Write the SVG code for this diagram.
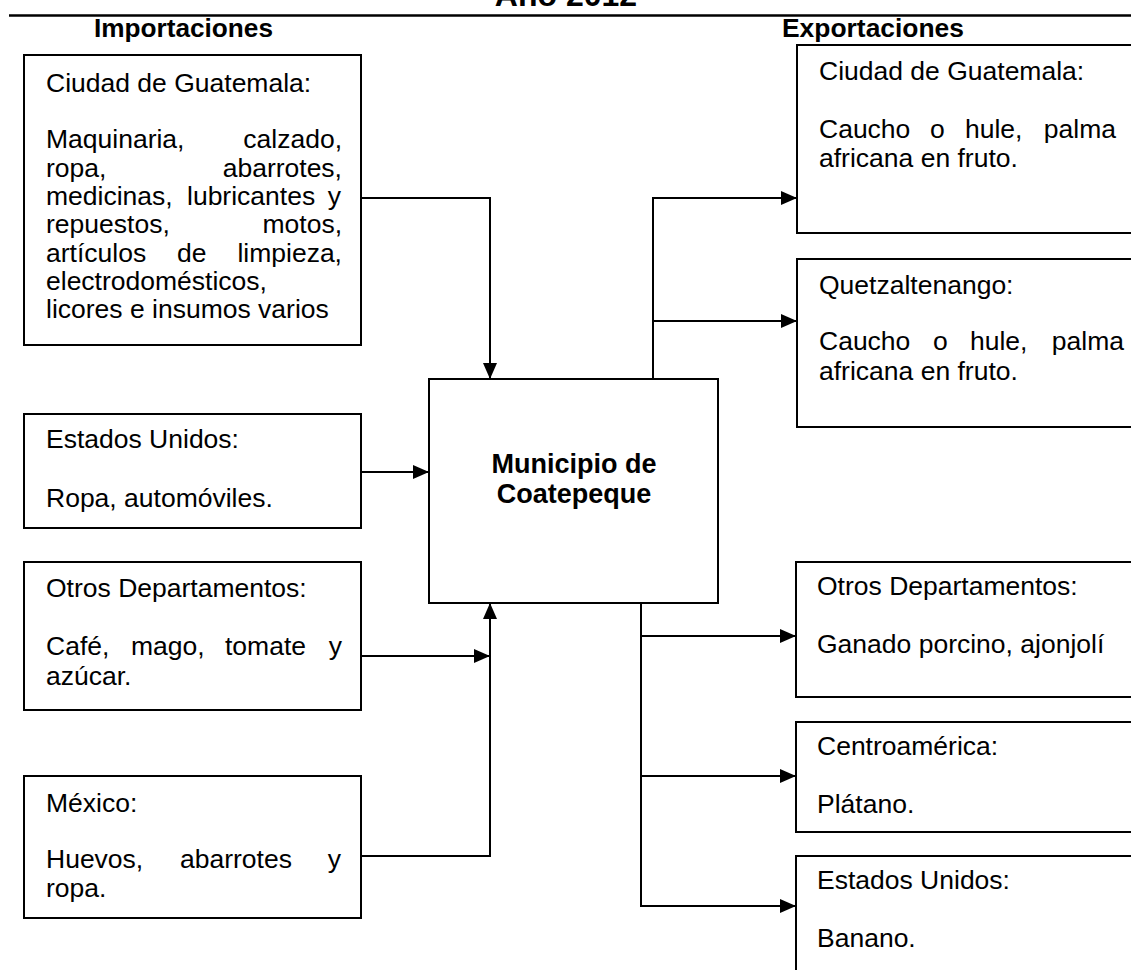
<svg xmlns="http://www.w3.org/2000/svg" width="1131" height="970" viewBox="0 0 1131 970">
<style>
.box{fill:#fff;stroke:#000;stroke-width:2}
.t{font-family:"Liberation Sans",Arial,sans-serif;font-size:26.5px;fill:#000}
.b{font-family:"Liberation Sans",Arial,sans-serif;font-weight:bold;fill:#000}
.c{fill:none;stroke:#000;stroke-width:2}
.e{text-anchor:end}
</style>
<defs>
<marker id="ah" markerUnits="userSpaceOnUse" markerWidth="16" markerHeight="14" refX="16" refY="7" orient="auto">
<path d="M0,0 L16,7 L0,14 z" fill="#000"/>
</marker>
</defs>
<rect width="1131" height="970" fill="#fff"/>
<g id="header">
<text class="b" x="566" y="6" font-size="32" text-anchor="middle">Año 2012</text>
<line x1="9" y1="15.5" x2="1131" y2="15.5" stroke="#000" stroke-width="2.5"/>
<text class="b" x="94" y="37" font-size="25" textLength="179" lengthAdjust="spacingAndGlyphs">Importaciones</text>
<text class="b" x="782" y="37" font-size="25" textLength="182" lengthAdjust="spacingAndGlyphs">Exportaciones</text>
</g>
<g id="imp-ciudad">
<rect class="box" x="24" y="55" width="337" height="290"/>
<text class="t" x="46" y="92">Ciudad de Guatemala:</text>
<text class="t"><tspan x="46" y="148">Maquinaria,</tspan><tspan class="e" x="342" y="148">calzado,</tspan></text>
<text class="t"><tspan x="46" y="177">ropa,</tspan><tspan class="e" x="342" y="177">abarrotes,</tspan></text>
<text class="t"><tspan x="46" y="205">medicinas,</tspan><tspan x="187" y="205">lubricantes</tspan><tspan class="e" x="341" y="205">y</tspan></text>
<text class="t"><tspan x="46" y="233">repuestos,</tspan><tspan class="e" x="342" y="233">motos,</tspan></text>
<text class="t"><tspan x="46" y="262">artículos</tspan><tspan x="177" y="262">de</tspan><tspan class="e" x="342" y="262">limpieza,</tspan></text>
<text class="t" x="46" y="290">electrodomésticos,</text>
<text class="t" x="46" y="318">licores e insumos varios</text>
</g>
<g id="imp-eeuu">
<rect class="box" x="24" y="414" width="337" height="114"/>
<text class="t" x="46" y="448">Estados Unidos:</text>
<text class="t" x="46" y="507">Ropa, automóviles.</text>
</g>
<g id="imp-otros">
<rect class="box" x="24" y="562" width="337" height="148"/>
<text class="t" x="46" y="597">Otros Departamentos:</text>
<text class="t"><tspan x="46" y="655">Café,</tspan><tspan x="131" y="655">mago,</tspan><tspan x="225" y="655">tomate</tspan><tspan class="e" x="342" y="655">y</tspan></text>
<text class="t" x="46" y="685">azúcar.</text>
</g>
<g id="imp-mexico">
<rect class="box" x="24" y="776" width="337" height="142"/>
<text class="t" x="46" y="812">México:</text>
<text class="t"><tspan x="46" y="868">Huevos,</tspan><tspan x="180" y="868">abarrotes</tspan><tspan class="e" x="341" y="868">y</tspan></text>
<text class="t" x="46" y="897">ropa.</text>
</g>
<g id="municipio">
<rect class="box" x="429" y="379" width="289" height="224"/>
<text class="b" font-size="27" text-anchor="middle"><tspan x="574" y="473">Municipio de</tspan><tspan x="574" y="503">Coatepeque</tspan></text>
</g>
<g id="exp-ciudad">
<rect class="box" x="797" y="45" width="345" height="188"/>
<text class="t" x="819" y="80">Ciudad de Guatemala:</text>
<text class="t"><tspan x="819" y="138">Caucho</tspan><tspan x="930" y="138">o</tspan><tspan x="965" y="138">hule,</tspan><tspan class="e" x="1116" y="138">palma</tspan></text>
<text class="t" x="819" y="167">africana en fruto.</text>
</g>
<g id="exp-quetzaltenango">
<rect class="box" x="797" y="259" width="345" height="168"/>
<text class="t" x="819" y="294">Quetzaltenango:</text>
<text class="t"><tspan x="819" y="350">Caucho</tspan><tspan x="933" y="350">o</tspan><tspan x="970" y="350">hule,</tspan><tspan class="e" x="1124" y="350">palma</tspan></text>
<text class="t" x="819" y="380">africana en fruto.</text>
</g>
<g id="exp-otros">
<rect class="box" x="796" y="562" width="346" height="135"/>
<text class="t" x="817" y="595">Otros Departamentos:</text>
<text class="t" x="817" y="653">Ganado porcino, ajonjolí</text>
</g>
<g id="exp-centroamerica">
<rect class="box" x="796" y="722" width="346" height="110"/>
<text class="t" x="817" y="755">Centroamérica:</text>
<text class="t" x="817" y="813">Plátano.</text>
</g>
<g id="exp-eeuu">
<rect class="box" x="796" y="856" width="346" height="130"/>
<text class="t" x="817" y="889">Estados Unidos:</text>
<text class="t" x="817" y="947">Banano.</text>
</g>
<g id="connectors">
<path class="c" d="M361,198 H490 V379" marker-end="url(#ah)"/>
<path class="c" d="M361,472 H429" marker-end="url(#ah)"/>
<path class="c" d="M361,656 H490" marker-end="url(#ah)"/>
<path class="c" d="M361,856 H490 V603" marker-end="url(#ah)"/>
<path class="c" d="M653,379 V198 H797" marker-end="url(#ah)"/>
<path class="c" d="M653,321 H797" marker-end="url(#ah)"/>
<path class="c" d="M641,603 V906 H796" marker-end="url(#ah)"/>
<path class="c" d="M641,636 H796" marker-end="url(#ah)"/>
<path class="c" d="M641,776 H796" marker-end="url(#ah)"/>
</g>
</svg>
